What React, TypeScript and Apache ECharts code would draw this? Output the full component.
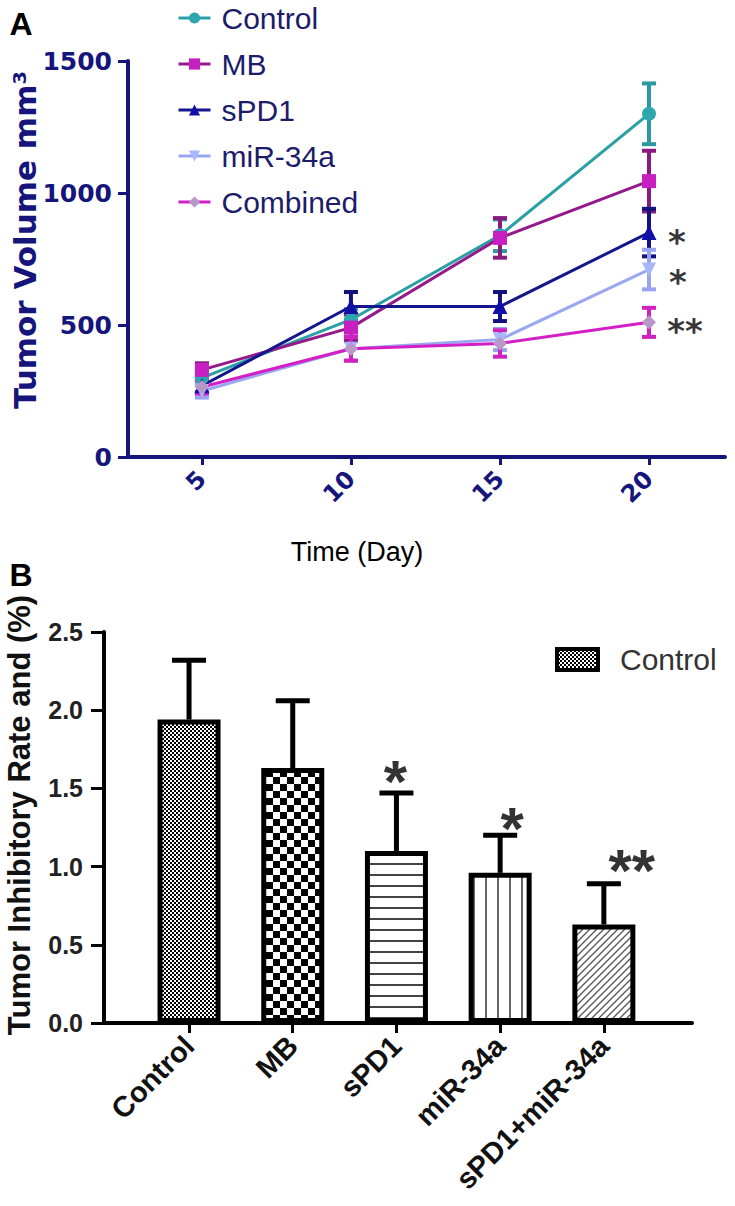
import React, { useEffect, useRef } from "react";
import * as echarts from "echarts";

// ---------- Panel A data ----------
const days = [5, 10, 15, 20];
const dayTicks = [5, 10, 15, 20];
const seriesNames = ["Control", "MB", "sPD1", "miR-34a", "Combined"];
const controlVol = [300, 520, 840, 1300];
const controlErr = [25, 40, 60, 115];
const mbVol = [330, 490, 830, 1045];
const mbErr = [25, 50, 75, 115];
const spd1Vol = [270, 570, 570, 850];
const spd1Err = [25, 55, 55, 90];
const mirVol = [250, 410, 445, 710];
const mirErr = [25, 45, 40, 75];
const combinedVol = [265, 410, 430, 510];
const combinedErr = [25, 45, 50, 55];
const sigA = ["", "", "*", "*", "**"];

// ---------- Panel B data ----------
const groups = ["Control", "MB", "sPD1", "miR-34a", "sPD1+miR-34a"];
const rate = [1.94, 1.63, 1.1, 0.96, 0.63];
const rateErr = [0.38, 0.43, 0.37, 0.24, 0.26];
const sigB = ["", "", "*", "*", "**"];

const NAVY = "#15157c";

function pat(w: number, h: number, draw: (ctx: CanvasRenderingContext2D) => void) {
  const c = document.createElement("canvas");
  c.width = w;
  c.height = h;
  const ctx = c.getContext("2d")!;
  ctx.fillStyle = "#fff";
  ctx.fillRect(0, 0, w, h);
  draw(ctx);
  return { image: c.toDataURL(), repeat: "repeat", imageWidth: w, imageHeight: h } as any;
}

export default function App() {
  const ref = useRef<HTMLDivElement>(null);
  useEffect(() => {
    if (!ref.current) return;
    const chart = echarts.init(ref.current, undefined, { renderer: "svg" });

    const fineCheck = pat(4, 4, (c) => {
      c.fillStyle = "#000";
      c.fillRect(0, 0, 2, 2);
      c.fillRect(2, 2, 2, 2);
    });
    const bigCheck = pat(14, 14, (c) => {
      c.fillStyle = "#000";
      c.fillRect(0, 0, 7, 7);
      c.fillRect(7, 7, 7, 7);
    });
    const hLines = pat(10, 11, (c) => {
      c.fillStyle = "#444";
      c.fillRect(0, 5, 10, 2);
    });
    const vLines = pat(12, 10, (c) => {
      c.fillStyle = "#666";
      c.fillRect(5, 0, 2, 10);
    });
    const diag = pat(7, 7, (c) => {
      c.strokeStyle = "#555";
      c.lineWidth = 1.3;
      c.beginPath();
      c.moveTo(-1, 8);
      c.lineTo(8, -1);
      c.moveTo(-2, 2);
      c.lineTo(2, -2);
      c.moveTo(5, 9);
      c.lineTo(9, 5);
      c.stroke();
    });
    const barPatterns = [fineCheck, bigCheck, hLines, vLines, diag];

    const vols = [controlVol, mbVol, spd1Vol, mirVol, combinedVol];
    const errs = [controlErr, mbErr, spd1Err, mirErr, combinedErr];
    const lineColors = ["#2aa0a6", "#95198a", "#15158f", "#9aa8f2", "#d41fc6"];
    const markColors = ["#2ea6ae", "#c81fc2", "#1010a6", "#a8b6fb", "#b897c9"];
    const errColors = ["#2a9aa0", "#8a1a80", "#12127e", "#98a4f0", "#d020c0"];
    const symbols = ["circle", "rect", "triangle", "triangle", "diamond"];
    const symbolRot = [0, 0, 0, 180, 0];
    const symbolSizes = [14, 14, 15, 14, 14];
    const starOffA = [
      [0, 0],
      [0, 0],
      [28, 9],
      [29, 12],
      [36, 9],
    ];
    const starOffB = [
      [0, 0],
      [0, 0],
      [-1, -12],
      [12, -7],
      [28, -13],
    ];

    const lineSeries = seriesNames.map((name, k) => ({
      name,
      type: "line",
      xAxisIndex: 0,
      yAxisIndex: 0,
      data: days.map((d, i) => [d, vols[k][i]]),
      symbol: symbols[k],
      symbolRotate: symbolRot[k],
      symbolSize: symbolSizes[k],
      lineStyle: { color: lineColors[k], width: 3 },
      itemStyle: { color: markColors[k] },
      z: 3,
    }));

    const errSeriesA = seriesNames.map((name, k) => ({
      name: name + " err",
      type: "custom",
      xAxisIndex: 0,
      yAxisIndex: 0,
      z: 2,
      data: days.map((d, i) => [d, vols[k][i], errs[k][i]]),
      renderItem: (params: any, api: any) => {
        const x = api.value(0);
        const y = api.value(1);
        const e = api.value(2);
        const top = api.coord([x, y + e]);
        const bot = api.coord([x, y - e]);
        const st = { stroke: errColors[k], lineWidth: 4 };
        return {
          type: "group",
          children: [
            { type: "line", shape: { x1: top[0], y1: top[1], x2: bot[0], y2: bot[1] }, style: st },
            { type: "line", shape: { x1: top[0] - 7, y1: top[1], x2: top[0] + 7, y2: top[1] }, style: st },
            { type: "line", shape: { x1: bot[0] - 7, y1: bot[1], x2: bot[0] + 7, y2: bot[1] }, style: st },
          ],
        };
      },
    }));

    const starsA = {
      type: "scatter",
      xAxisIndex: 0,
      yAxisIndex: 0,
      symbolSize: 0,
      silent: true,
      z: 5,
      data: seriesNames
        .map((n, k) => ({ k, v: [20, vols[k][3]], s: sigA[k] }))
        .filter((o) => o.s)
        .map((o) => ({
          value: o.v,
          label: {
            show: true,
            formatter: o.s,
            position: "inside",
            offset: starOffA[o.k],
            fontSize: 34,
            lineHeight: 20,
            fontWeight: "bold",
            color: "#000",
            fontFamily: "DejaVu Sans",
          },
        })),
    };

    const bars = {
      name: "Inhibitory",
      type: "bar",
      xAxisIndex: 1,
      yAxisIndex: 1,
      barWidth: 63,
      z: 2,
      data: groups.map((g, i) => ({
        value: [i, rate[i]],
        itemStyle: { color: barPatterns[i], borderColor: "#000", borderWidth: 5 },
      })),
    };

    const errB = {
      type: "custom",
      xAxisIndex: 1,
      yAxisIndex: 1,
      z: 3,
      data: groups.map((g, i) => [i, rate[i], rateErr[i]]),
      renderItem: (params: any, api: any) => {
        const x = api.value(0);
        const y = api.value(1);
        const e = api.value(2);
        const p0 = api.coord([x, y]);
        const p1 = api.coord([x, y + e]);
        const st = { stroke: "#000", lineWidth: 5 };
        return {
          type: "group",
          children: [
            { type: "line", shape: { x1: p0[0], y1: p0[1], x2: p1[0], y2: p1[1] }, style: st },
            { type: "line", shape: { x1: p1[0] - 17, y1: p1[1], x2: p1[0] + 17, y2: p1[1] }, style: st },
          ],
        };
      },
    };

    const starsB = {
      type: "scatter",
      xAxisIndex: 1,
      yAxisIndex: 1,
      symbolSize: 0,
      silent: true,
      z: 5,
      data: groups
        .map((g, i) => ({ i, s: sigB[i] }))
        .filter((o) => o.s)
        .map((o) => ({
          value: [o.i, rate[o.i] + rateErr[o.i]],
          label: {
            show: true,
            formatter: o.s,
            position: "inside",
            offset: starOffB[o.i],
            fontSize: 60,
            lineHeight: 30,
            fontWeight: "bold",
            color: "#000",
            fontFamily: "Liberation Sans",
          },
        })),
    };

    const option: any = {
      animation: false,
      backgroundColor: "#fff",
      legend: {
        data: seriesNames,
        orient: "vertical",
        left: 172,
        top: -2,
        itemWidth: 32,
        itemHeight: 14,
        itemGap: 16,
        selectedMode: false,
        lineStyle: { width: 3 },
        textStyle: {
          fontSize: 30,
          color: "#1c1c6a",
          fontFamily: "Liberation Sans",
          padding: [0, 0, 0, 6],
        },
      },
      grid: [
        { left: 128, top: 61, width: 597, height: 396 },
        { left: 104, top: 632, width: 588, height: 391 },
      ],
      xAxis: [
        {
          type: "value",
          gridIndex: 0,
          min: 2.52,
          max: 22.55,
          splitLine: { show: false },
          axisLine: { show: true, onZero: false, lineStyle: { color: NAVY, width: 4 } },
          axisTick: { show: true, customValues: dayTicks, length: 8, lineStyle: { color: NAVY, width: 3 } },
          axisLabel: {
            customValues: dayTicks,
            rotate: 45,
            margin: 18,
            fontSize: 24,
            fontWeight: "bold",
            fontFamily: "DejaVu Sans",
            color: NAVY,
          },
        },
        {
          type: "value",
          gridIndex: 1,
          min: -0.82,
          max: 4.85,
          splitLine: { show: false },
          axisLine: { show: true, onZero: false, lineStyle: { color: "#000", width: 4 } },
          axisTick: { show: true, customValues: [0, 1, 2, 3, 4], length: 10, lineStyle: { color: "#000", width: 3 } },
          axisLabel: {
            customValues: [0, 1, 2, 3, 4],
            formatter: (v: number) => groups[Math.round(v)],
            rotate: 45,
            margin: 18,
            fontSize: 29,
            fontWeight: "bold",
            fontFamily: "Liberation Sans",
            color: "#111",
          },
        },
      ],
      yAxis: [
        {
          type: "value",
          gridIndex: 0,
          min: 0,
          max: 1500,
          interval: 500,
          splitLine: { show: false },
          axisLine: { show: true, onZero: false, lineStyle: { color: NAVY, width: 4 } },
          axisTick: { show: true, length: 10, lineStyle: { color: NAVY, width: 3 } },
          axisLabel: {
            margin: 16,
            formatter: (v: number) => String(v),
            fontSize: 25,
            fontWeight: "bold",
            fontFamily: "DejaVu Sans",
            color: NAVY,
          },
        },
        {
          type: "value",
          gridIndex: 1,
          min: 0,
          max: 2.5,
          interval: 0.5,
          splitLine: { show: false },
          axisLine: { show: true, onZero: false, lineStyle: { color: "#000", width: 4 } },
          axisTick: { show: true, length: 13, lineStyle: { color: "#000", width: 3 } },
          axisLabel: {
            margin: 21,
            formatter: (v: number) => v.toFixed(1),
            fontSize: 25,
            fontWeight: "bold",
            fontFamily: "Liberation Sans",
            color: "#222",
          },
        },
      ],
      graphic: [
        {
          type: "text",
          x: 21,
          y: 24,
          style: { text: "A", font: "bold 32px 'Liberation Sans'", fill: "#000", align: "center", verticalAlign: "middle" },
        },
        {
          type: "text",
          x: 21,
          y: 575,
          style: { text: "B", font: "bold 32px 'Liberation Sans'", fill: "#000", align: "center", verticalAlign: "middle" },
        },
        {
          type: "text",
          x: 25,
          y: 240,
          rotation: Math.PI / 2,
          style: {
            text: "Tumor Volume mm³",
            font: "bold 31px 'DejaVu Sans'",
            fill: NAVY,
            align: "center",
            verticalAlign: "middle",
          },
        },
        {
          type: "text",
          x: 357,
          y: 552,
          style: {
            text: "Time (Day)",
            font: "27px 'Liberation Sans'",
            fill: "#000",
            align: "center",
            verticalAlign: "middle",
          },
        },
        {
          type: "text",
          x: 19,
          y: 815,
          rotation: Math.PI / 2,
          style: {
            text: "Tumor Inhibitory Rate and (%)",
            font: "bold 31px 'Liberation Sans'",
            fill: "#111",
            align: "center",
            verticalAlign: "middle",
          },
        },
        {
          type: "rect",
          shape: { x: 557, y: 649, width: 41, height: 21 },
          style: { fill: fineCheck, stroke: "#000", lineWidth: 4 },
        },
        {
          type: "text",
          x: 620,
          y: 659,
          style: {
            text: "Control",
            font: "30px 'Liberation Sans'",
            fill: "#333",
            align: "left",
            verticalAlign: "middle",
          },
        },
      ],
      series: [...errSeriesA, ...lineSeries, starsA, bars, errB, starsB],
    };
    chart.setOption(option);
    return () => chart.dispose();
  }, []);
  return (
    <div
      ref={ref}
      style={{ position: "fixed", left: 0, top: 0, width: 735, height: 1206, background: "#fff" }}
    />
  );
}
